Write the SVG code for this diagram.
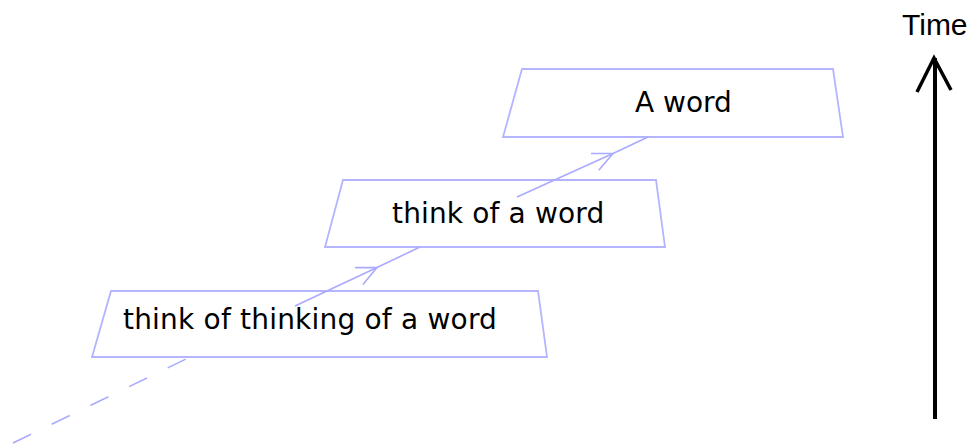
<svg xmlns="http://www.w3.org/2000/svg" width="978" height="446" viewBox="0 0 978 446">
  <style>
    .box { fill: #ffffff; stroke: #b4b4ff; stroke-width: 1.8; }
    .lbl { font-family: "DejaVu Sans", Verdana, sans-serif; font-size: 28px; fill: #000000; }
    .conn { fill: none; stroke: #aaaaff; stroke-width: 1.6; }
    .dash { stroke-dasharray: 20 23; }
  </style>
  <defs>
    <marker id="chev" markerUnits="userSpaceOnUse" markerWidth="30" markerHeight="30" refX="0" refY="0" orient="auto" overflow="visible">
      <path d="M-20,-9.3 L0,0 L-20,9.3" fill="none" stroke="#aaaaff" stroke-width="1.6"/>
    </marker>
  </defs>
  <rect width="978" height="446" fill="#ffffff"/>

  <g id="node-a-word">
    <polygon class="box" points="522,69 833,69 843,137 503,137"/>
    <text class="lbl" x="635" y="112">A word</text>
  </g>
  <g id="node-think-of-a-word">
    <polygon class="box" points="343,180 656,180 665,247 325,247"/>
    <text class="lbl" x="392" y="223" letter-spacing="0.15">think of a word</text>
  </g>
  <g id="node-think-of-thinking">
    <polygon class="box" points="111,291 538,291 547,357 92,357"/>
    <text class="lbl" x="123" y="329" letter-spacing="0.2">think of thinking of a word</text>
  </g>

  <g id="connectors">
    <path class="conn dash" d="M13,443 L186,359"/>
    <path class="conn" d="M295,306 L377,267.5 L420,247" marker-mid="url(#chev)"/>
    <path class="conn" d="M517,197 L613,153.5 L648,137" marker-mid="url(#chev)"/>
  </g>

  <g id="time-axis">
    <text x="902" y="35" font-family="Liberation Sans, Arial, sans-serif" font-size="30" fill="#000000">Time</text>
    <line x1="935" y1="419" x2="935" y2="58" stroke="#000000" stroke-width="4"/>
    <polyline points="917,92 934,58 951,90" fill="none" stroke="#000000" stroke-width="3.5" stroke-linejoin="miter"/>
  </g>
</svg>
